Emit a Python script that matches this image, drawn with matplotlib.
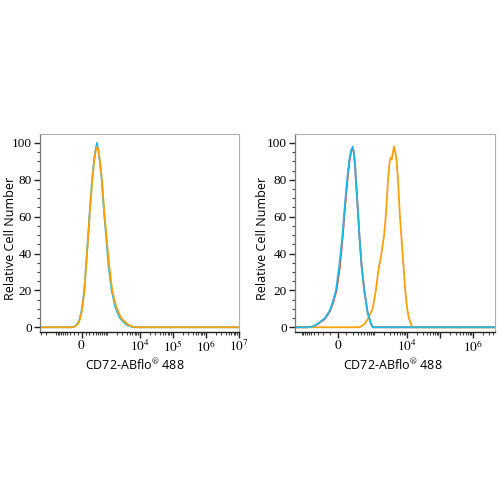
import numpy as np
import matplotlib
matplotlib.use("Agg")
import matplotlib.pyplot as plt
from matplotlib.ticker import FixedLocator, NullFormatter

plt.rcParams['mathtext.fontset'] = 'stix'

# x values are in biexponential display units (decades); 0 = zero intensity
# ---- left panel ----
L_xlim = (-1.26, 4.77)
L_C = 174.0
L_major = [0, 1e4, 1e5, 1e6, 1e7]
L_major_labels = [r'$0$', r'$10^{4}$', r'$10^{5}$', r'$10^{6}$', r'$10^{7}$']
L_cyan_x = [-1.26, -0.30, -0.20, -0.10, -0.05, 0.00, 0.04, 0.08, 0.13, 0.20, 0.26, 0.32, 0.38, 0.43, 0.47,
            0.51, 0.56, 0.61, 0.67, 0.74, 0.82, 0.91, 1.02, 1.16, 1.35, 1.56, 4.77]
L_cyan_y = [0, 0, 0.5, 2.5, 5, 9, 14, 20, 32, 50, 66, 80, 91, 97, 100,
            96, 89, 80, 65, 50, 33, 20, 11, 5, 1.5, 0, 0]
L_orange_x = [-1.26, -0.30, -0.20, -0.10, -0.05, 0.00, 0.04, 0.08, 0.13, 0.20, 0.26, 0.32, 0.38, 0.43, 0.48,
              0.52, 0.57, 0.62, 0.68, 0.75, 0.84, 0.93, 1.05, 1.20, 1.40, 1.60, 4.77]
L_orange_y = [0, 0, 0.4, 2, 4.5, 8, 13, 19, 31, 49, 65, 79, 90, 96, 98,
              95, 88, 79, 64, 50, 33, 20, 11, 5, 1.5, 0, 0]

# ---- right panel ----
R_xlim = (-1.30, 4.76)
R_C = 81.0
R_major = [0, 1e4, 1e5, 1e6]
R_major_labels = [r'$0$', r'$10^{4}$', '', r'$10^{6}$']
R_cyan_x = [-1.30, -0.90, -0.76, -0.60, -0.50, -0.39, -0.25, -0.15, -0.06, 0.04, 0.14, 0.21, 0.28, 0.34, 0.40,
            0.45, 0.48, 0.52, 0.545, 0.60, 0.65, 0.72, 0.80, 0.90, 1.00, 1.06, 4.76]
R_cyan_y = [0, 0, 0.5, 2, 3.5, 5, 9, 14, 20, 33, 50, 66, 80, 90, 96,
            98, 95, 88, 80, 65, 50, 33, 20, 8, 2, 0, 0]
R_red_x = [-1.30, -0.90, -0.76, -0.60, -0.50, -0.39, -0.25, -0.15, -0.04, 0.06, 0.15, 0.22, 0.29, 0.35, 0.41,
           0.45, 0.48, 0.52, 0.545, 0.60, 0.65, 0.72, 0.80, 0.90, 1.00, 1.06, 4.76]
R_red_y = [0, 0, 0.4, 1.8, 3.2, 4.6, 8.5, 13, 20, 33, 50, 66, 80, 90, 96,
           97, 95, 88, 80, 65, 50, 33, 20, 8, 2, 0, 0]
R_orange_x = [-1.30, 0.60, 0.72, 0.82, 0.92, 1.05, 1.15, 1.22, 1.32, 1.40, 1.45, 1.52, 1.57, 1.60, 1.63,
              1.67, 1.70, 1.74, 1.78, 1.82, 1.88, 1.96, 2.04, 2.10, 2.15, 2.25, 4.76]
R_orange_y = [0, 0, 0.5, 2, 5, 10, 20, 30, 40, 50, 60, 80, 90, 92, 91,
              95, 98, 95, 90, 80, 60, 40, 20, 10, 5, 0, 0]

CYAN = '#22b8e3'
ORANGE = '#f7a10c'
RED = '#e8483c'


def biex(v, C):
    return np.arcsinh(np.asarray(v, dtype=float) / (2 * C)) / np.log(10)


def minor_values():
    vals = []
    for k in range(2, 7):
        for m in range(1, 10):
            vals.append(m * 10 ** k)
            vals.append(-m * 10 ** k)
    return vals


fig = plt.figure(figsize=(5, 5), dpi=100)
axL = fig.add_axes([0.080, 0.3366, 0.398, 0.3954])
axR = fig.add_axes([0.590, 0.3366, 0.400, 0.3954])


def style(ax, xlim, C, majors, labels, xlab_x, ylab_x):
    ax.set_xlim(*xlim)
    ax.set_ylim(-2.4, 104.8)
    ax.set_yticks([0, 20, 40, 60, 80, 100])
    ax.set_yticklabels(['0', '20', '40', '60', '80', '100'], fontfamily='Liberation Serif', fontsize=9.5)
    ax.yaxis.set_minor_locator(FixedLocator(np.arange(0, 105, 5)))
    mpos = biex(majors, C)
    ax.set_xticks(mpos)
    ax.set_xticklabels(labels, fontsize=9.5)
    mins = [p for p in biex(minor_values(), C) if xlim[0] < p < xlim[1]]
    ax.xaxis.set_minor_locator(FixedLocator(mins))
    ax.xaxis.set_minor_formatter(NullFormatter())
    ax.tick_params(axis='both', which='major', length=4, width=1, color='#222222', pad=2)
    ax.tick_params(axis='both', which='minor', length=2, width=0.8, color='#444444')
    ax.tick_params(axis='x', which='major', pad=1.5)
    for s in ['top', 'right']:
        ax.spines[s].set_color('#b0b0b0')
        ax.spines[s].set_linewidth(0.8)
    ax.spines['left'].set_color('#777777')
    ax.spines['left'].set_linewidth(0.9)
    ax.spines['bottom'].set_color('#222222')
    ax.spines['bottom'].set_linewidth(1.0)
    ax.set_xlabel(r'CD72-ABflo$^{\circledR}$ 488', fontfamily='Open Sans', fontsize=9)
    ax.set_ylabel('Relative Cell Number', fontfamily='Open Sans', fontsize=9)
    ax.xaxis.set_label_coords(xlab_x, -0.125)
    ax.yaxis.set_label_coords(ylab_x, 0.47)


style(axL, L_xlim, L_C, L_major, L_major_labels, 0.477, -0.118)
style(axR, R_xlim, R_C, R_major, R_major_labels, 0.49, -0.13)

axL.plot(L_cyan_x, L_cyan_y, color=CYAN, lw=1.3)
axL.plot(L_orange_x, L_orange_y, color=ORANGE, lw=1.3)

axR.plot(R_red_x, R_red_y, color=RED, lw=1.3)
axR.plot(R_orange_x, R_orange_y, color=ORANGE, lw=1.3)
axR.plot(R_cyan_x, R_cyan_y, color=CYAN, lw=1.3)

fig.savefig('out.png', dpi=100)
